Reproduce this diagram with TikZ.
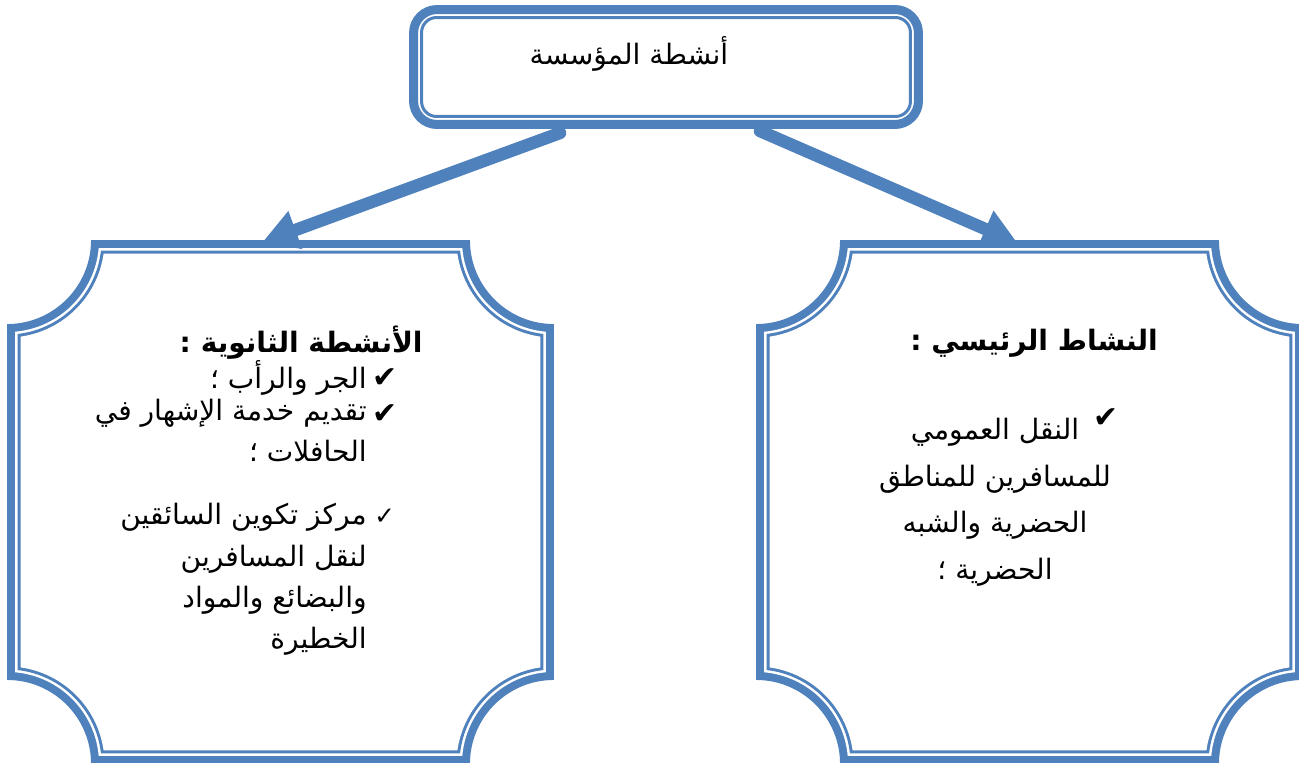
\documentclass[tikz,border=0pt]{standalone}
\usepackage{fontspec}
\usetikzlibrary{calc,positioning,arrows.meta}
\TeXXeTstate=1
\newfontfamily\arabicfont[Script=Arabic]{DejaVu Sans}
\newfontfamily\tickfont{DejaVu Sans}
\definecolor{boxblue}{HTML}{4F81BD}
% plaque frame: thick line, gap, thin line, concave corners (radius 84)
\def\plaque#1{%
  \foreach \ins/\col in {0/boxblue,8/white,10.5/boxblue,13.5/white}{%
    \pgfmathsetmacro\rr{84+\ins}
    \pgfmathsetmacro\ss{sqrt(\rr*\rr-\ins*\ins)}
    \pgfmathsetmacro\ph{asin(\ins/\rr)}
    \fill[\col] ($(#1.north west)+(\ss,\ins)$) -- ($(#1.north east)+(-\ss,\ins)$)
      arc[start angle=180-\ph,end angle=90+\ph,radius=\rr]
      -- ($(#1.south east)+(-\ins,-\ss)$)
      arc[start angle=270-\ph,end angle=180+\ph,radius=\rr]
      -- ($(#1.south west)+(\ss,-\ins)$)
      arc[start angle=-\ph,end angle=-90+\ph,radius=\rr]
      -- ($(#1.north west)+(\ins,\ss)$)
      arc[start angle=90-\ph,end angle=\ph,radius=\rr] -- cycle;}}

\begin{document}
\begin{tikzpicture}[x=0.02cm,y=-0.02cm,
    frame/.style={minimum width=10.94cm,minimum height=10.48cm,inner sep=0pt,outer sep=0pt},
    txt/.style={inner sep=0pt,font=\arabicfont\fontsize{16}{23}\selectfont},
    head/.style={inner sep=0pt,font=\arabicfont\bfseries\fontsize{16}{22}\selectfont},
    tick/.style={inner sep=0pt,font=\tickfont\fontsize{17}{17}\selectfont},
    link/.style={boxblue,line width=0.25cm,line cap=round,-{Triangle[length=0.7cm,width=0.76cm]}}]
		%%%%% START %%%%%
		\useasboundingbox[fill=white] (0,0) rectangle (1299,762);
		
		\node[draw=boxblue,line width=0.18cm,rounded corners=0.47cm,minimum width=10.1cm,minimum height=2.3cm] (org) at (666,67) {};
		\draw[boxblue,line width=0.06cm,rounded corners=0.3cm] ($(org.north west)+(12.5,12.5)$) rectangle ($(org.south east)-(12.5,12.5)$);
		\node[txt] (orgtxt) at ($(org.center)+(-37,-13)$) {\beginR أنشطة المؤسسة\endR};
		
		\node[frame] (sec) at (280.5,502) {};
		\node[frame] (main) at (1029.5,502) {};
		\plaque{sec}
		\plaque{main}
		
		% secondary activities
		\node[head,anchor=east] (sechead) at ($(sec.north west)+(416,103)$) {\beginR الأنشطة الثانوية :\endR};
		\node[txt,anchor=east] (sec1) at (367,378) {\beginR الجر والرأب ؛\endR};
		\node[txt,anchor=north east,align=right] (sec2) at (367,399) {\beginR تقديم خدمة الإشهار في\endR\\\beginR الحافلات ؛\endR};
		\node[txt,anchor=north east,align=right,font=\arabicfont\fontsize{16}{23.5}\selectfont] (sec3) at (367,503) {\beginR مركز تكوين السائقين\endR\\\beginR لنقل المسافرين\endR\\\beginR والبضائع والمواد\endR\\\beginR الخطيرة\endR};
		\node[tick,right=0.1cm of sec1] {✔};
		\node[tick,right=0.1cm of sec2.north east,anchor=north west,yshift=-0.1cm] {✔};
		\node[tick,right=0.14cm of sec3.north east,anchor=north west,yshift=-0.12cm,font=\tickfont\fontsize{14}{14}\selectfont] {✓};
		
		% main activity
		\node[head] (mainhead) at ($(main.north west)+(278,103)$) {\beginR النشاط الرئيسي :\endR};
		\node[txt,anchor=north,align=center,font=\arabicfont\fontsize{16}{26.5}\selectfont] (main1) at (995,418) {\beginR النقل العمومي\endR\\\beginR للمسافرين للمناطق\endR\\\beginR الحضرية والشبه\endR\\\beginR الحضرية ؛\endR};
		\node[tick] at (1106,418) {✔};
		
		\draw[link] ($(org.south)+(-106,4)$) -- ($(sec.north)+(-18,2)$);
		\draw[link] ($(org.south)+(94,2)$) -- ($(main.north)+(-12,3)$);
		%%%%% END %%%%%
	\end{tikzpicture}
\end{document}
